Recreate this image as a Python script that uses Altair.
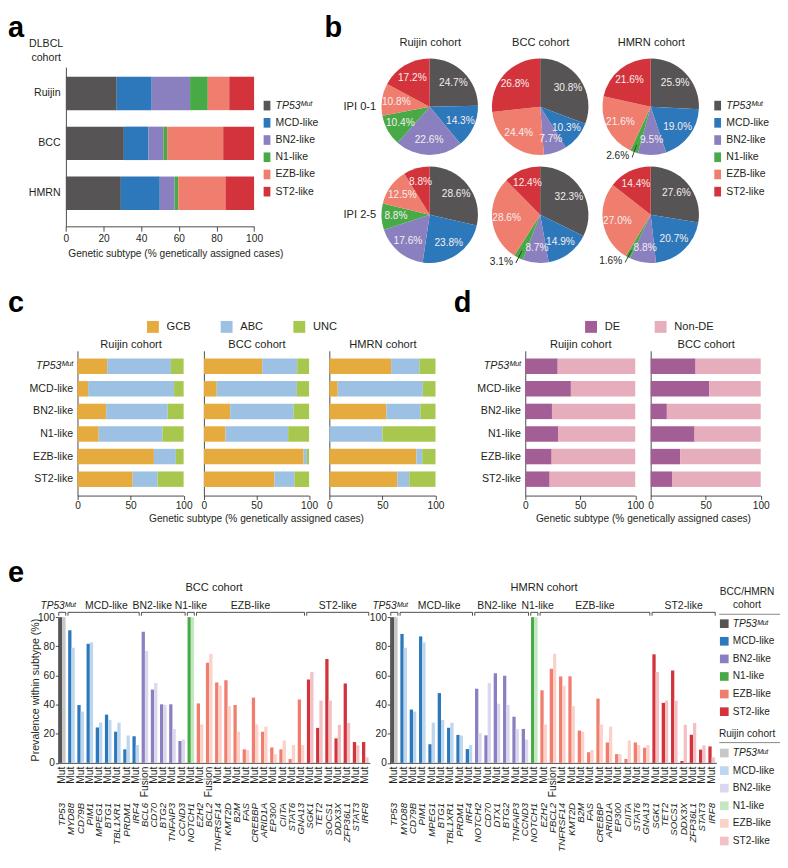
import altair as alt
import pandas as pd

K = 0.97


def P(v):
    return round(K * v, 2)


W = 776
H = 845
FONT = 'Liberation Sans'
TXT = '#231f20'

SUBTYPES = ['TP53Mut', 'MCD-like', 'BN2-like', 'N1-like', 'EZB-like', 'ST2-like']
DARK = ['#575455', '#2c78bb', '#8a80c0', '#48aa47', '#f07e6e', '#d3333a']
LIGHT = ['#c8c7c7', '#bdd7ee', '#dad7ee', '#c4e6c1', '#fbd1c9', '#f1c1c5']

# ---------------- panel a ----------------
A_COHORTS = ['Ruijin', 'BCC', 'HMRN']
A_RUIJIN = [27.0, 18.6, 20.4, 9.4, 11.4, 13.2]
A_BCC = [30.8, 13.1, 7.9, 2.0, 29.8, 16.4]
A_HMRN = [29.2, 20.7, 7.9, 1.9, 25.1, 15.2]

# ---------------- panel b ----------------
B_COHORTS = ['Ruijin cohort', 'BCC cohort', 'HMRN cohort']
B_IPI = ['IPI 0-1', 'IPI 2-5']
B_RUIJIN_IPI01 = [24.7, 14.3, 22.6, 10.4, 10.8, 17.2]
B_BCC_IPI01 = [30.8, 10.3, 7.7, 0.0, 24.4, 26.8]
B_HMRN_IPI01 = [25.9, 19.0, 9.5, 2.6, 21.6, 21.6]
B_RUIJIN_IPI25 = [28.6, 23.8, 17.6, 8.8, 12.5, 8.8]
B_BCC_IPI25 = [32.3, 14.9, 8.7, 3.1, 28.6, 12.4]
B_HMRN_IPI25 = [27.6, 20.7, 8.8, 1.6, 27.0, 14.4]

# ---------------- panel c ----------------
C_CLASSES = ['GCB', 'ABC', 'UNC']
C_COLORS = ['#e5ab3e', '#9dc1e3', '#a8c74f']
C_RUIJIN_GCB = [28.0, 10.0, 27.0, 20.0, 72.0, 52.0]
C_RUIJIN_ABC = [60.0, 81.0, 58.0, 60.0, 20.7, 23.5]
C_RUIJIN_UNC = [12.0, 9.0, 15.0, 20.0, 7.3, 24.5]
C_BCC_GCB = [55.4, 12.2, 25.0, 20.5, 94.8, 67.0]
C_BCC_ABC = [33.3, 76.2, 60.3, 59.6, 3.1, 19.0]
C_BCC_UNC = [11.3, 11.6, 14.7, 19.9, 2.1, 14.0]
C_HMRN_GCB = [58.2, 7.9, 53.7, 0.0, 82.0, 64.0]
C_HMRN_ABC = [26.6, 80.2, 32.0, 50.0, 5.5, 11.3]
C_HMRN_UNC = [15.2, 11.9, 14.3, 50.0, 12.5, 24.7]

# ---------------- panel d ----------------
D_CLASSES = ['DE', 'Non-DE']
D_COLORS = ['#a45e96', '#e6adbd']
D_RUIJIN_DE = [29.5, 41.5, 24.3, 29.8, 24.0, 22.2]
D_RUIJIN_NONDE = [70.5, 58.5, 75.7, 70.2, 76.0, 77.8]
D_BCC_DE = [40.8, 53.1, 14.7, 39.9, 26.7, 19.4]
D_BCC_NONDE = [59.2, 46.9, 85.3, 60.1, 73.3, 80.6]

# ---------------- panel e ----------------
E_BCC_GENES = ['TP53', 'MYD88', 'CD79B', 'PIM1', 'MPEG1', 'BTG1', 'TBL1XR1', 'PRDM1', 'IRF4',
               'BCL6', 'CD70', 'BTG2', 'TNFAIP3', 'CCND3', 'NOTCH1',
               'EZH2', 'BCL2', 'TNFRSF14', 'KMT2D', 'B2M', 'FAS', 'CREBBP', 'ARID1A', 'EP300',
               'CIITA', 'STAT6', 'GNA13', 'SGK1', 'TET2', 'SOCS1', 'DDX3X', 'ZFP36L1', 'STAT3', 'IRF8']
E_BCC_ALT = ['Mut'] * 9 + ['Fusion'] + ['Mut'] * 6 + ['Fusion'] + ['Mut'] * 17
E_BCC_SIZES = [1, 8, 5, 1, 12, 7]
E_BCC_VALUES = [100, 91.0, 39.7, 81.7, 24.3, 33.1, 21.4, 9.3, 18.3,
                90.0, 50.3, 40.2, 40.2, 15.0, 100,
                40.8, 68.7, 55.2, 56.7, 39.7, 9.3, 44.8, 21.4, 10.6, 9.3, 2.6, 43.5,
                57.2, 24.0, 71.3, 16.8, 54.5, 14.3, 14.3]
E_BCC_RUIJIN = [100, 79.0, 35.2, 82.7, 27.6, 29.4, 27.5, 18.8, 12.2,
                76.8, 54.8, 39.8, 23.2, 16.0, 100,
                26.4, 74.8, 53.0, 38.9, 21.4, 8.8, 26.4, 24.9, 6.0, 15.4, 12.3, 12.2,
                62.4, 42.8, 42.7, 26.1, 27.4, 12.0, 3.8]

E_HMRN_GENES = ['TP53', 'MYD88', 'CD79B', 'PIM1', 'MPEG1', 'BTG1', 'TBL1XR1', 'PRDM1', 'IRF4',
                'NOTCH2', 'CD70', 'DTX1', 'BTG2', 'TNFAIP3', 'CCND3', 'NOTCH1',
                'EZH2', 'FBCL2', 'TNFRSF14', 'KMT2D', 'B2M', 'FAS', 'CREBBP', 'ARID1A', 'EP300',
                'CIITA', 'STAT6', 'GNA13', 'SGK1', 'TET2', 'SOCS1', 'DDX3X', 'ZFP36L1', 'STAT3', 'IRF8']
E_HMRN_ALT = ['Mut'] * 17 + ['Fusion'] + ['Mut'] * 17
E_HMRN_SIZES = [1, 8, 6, 1, 12, 7]
E_HMRN_VALUES = [100, 88.5, 36.6, 86.8, 12.8, 47.9, 24.1, 19.2, 9.5,
                 50.9, 18.9, 61.5, 59.8, 31.7, 23.3, 100,
                 49.8, 64.6, 59.3, 59.4, 22.2, 7.3, 44.1, 14.0, 6.0, 2.7, 14.0, 10.4,
                 74.5, 41.2, 63.4, 1.3, 19.3, 9.1, 11.3]
E_HMRN_RUIJIN = [100, 79.0, 35.2, 82.7, 27.6, 29.4, 27.5, 18.8, 12.2,
                 20.4, 54.8, 40.6, 39.8, 23.2, 16.0, 100,
                 26.4, 74.8, 53.0, 38.9, 21.4, 8.8, 26.4, 24.9, 6.0, 15.4, 12.3, 12.2,
                 62.4, 42.8, 42.7, 26.1, 27.4, 12.0, 3.8]

TP53_LABEL = "datum.value == 'TP53Mut' ? 'TP53ᴹᵘᵗ' : datum.label"
AX_ITALIC = {"condition": {"test": "datum.value == 'TP53Mut'", "value": "italic"}, "value": "normal"}
LG_ITALIC = {"expr": "datum.value == 'TP53Mut' ? 'italic' : 'normal'"}
RECT = 'M-0.7,-1H0.7V1H-0.7Z'


def subtype_legend(x, y, pitch, sym, size, font, title=None, extra=None):
    kw = dict(orient='none', legendX=P(x), legendY=P(y), symbolType=sym,
              symbolSize=round(K * K * size, 1), symbolStrokeWidth=0, symbolOpacity=1,
              labelFontSize=P(font), labelColor=TXT, labelFont=FONT, labelOffset=P(3.5),
              rowPadding=round(P(pitch) - P(font), 2), padding=0, labelLimit=300,
              labelExpr=TP53_LABEL, labelFontStyle=LG_ITALIC, title=title)
    if extra:
        kw.update(extra)
    return alt.Legend(**kw)


# ================= panel a =================
rows = []
for cohort, vals in zip(A_COHORTS, [A_RUIJIN, A_BCC, A_HMRN]):
    for i, (s, v) in enumerate(zip(SUBTYPES, vals)):
        rows.append({'cohort': cohort, 'subtype': s, 'value': v, 'order': i})
df_a = pd.DataFrame(rows)

chart_a = alt.Chart(df_a).mark_bar().encode(
    x=alt.X('value:Q', stack='zero',
            scale=alt.Scale(domain=[0, 100], range=[P(60), P(255)], nice=False),
            axis=alt.Axis(orient='bottom', offset=P(224) - H, values=[0, 20, 40, 60, 80, 100],
                          tickSize=P(5), labelPadding=P(2), labelFlush=False, labelFontSize=P(10.5),
                          title='Genetic subtype (% genetically assigned cases)',
                          titleFontSize=P(10.5), titleFontWeight='normal', titleX=P(62), titleY=P(28),
                          titleAlign='left', titleBaseline='middle')),
    y=alt.Y('cohort:N',
            scale=alt.Scale(domain=A_COHORTS, range=[P(59), P(224)], paddingInner=0.33,
                            paddingOuter=0.26, align=0.37),
            axis=alt.Axis(orient='left', offset=-P(60), ticks=False, labelPadding=P(6),
                          labelFontSize=P(11), title=['DLBCL', 'cohort'], titleAngle=0,
                          titleAlign='center', titleBaseline='top', titleX=P(39) - P(60),
                          titleY=P(29), titleLineHeight=P(15), titleFontSize=P(11),
                          titleFontWeight='normal')),
    color=alt.Color('subtype:N', scale=alt.Scale(domain=SUBTYPES, range=DARK),
                    legend=subtype_legend(263, 93.5, 17.3, RECT, 100, 10.8)),
    order=alt.Order('order:Q'),
)

# ================= panel b =================
rows = []
for ipi, lists in zip(B_IPI, [[B_RUIJIN_IPI01, B_BCC_IPI01, B_HMRN_IPI01],
                              [B_RUIJIN_IPI25, B_BCC_IPI25, B_HMRN_IPI25]]):
    for cohort, vals in zip(B_COHORTS, lists):
        for i, (s, v) in enumerate(zip(SUBTYPES, vals)):
            rows.append({'cohort': cohort, 'ipi': ipi, 'subtype': s, 'value': v,
                         'order': i, 'label': f'{v:.1f}%'})
df_b = pd.DataFrame(rows)

b_x = alt.X('cohort:N',
            scale=alt.Scale(type='point', domain=B_COHORTS, range=[P(437), P(666)], padding=0),
            axis=alt.Axis(orient='top', offset=-P(41), domain=False, ticks=False, labelAngle=0,
                          labelPadding=P(2), labelFontSize=P(11.5), title=None))
b_y = alt.Y('ipi:N',
            scale=alt.Scale(type='point', domain=B_IPI, range=[P(100), P(212)], padding=0),
            axis=alt.Axis(orient='left', offset=-P(384), domain=False, ticks=False,
                          labelPadding=P(3), labelFontSize=P(11.5), title=None))
theta_scale = alt.Scale(domain=[0, 100], range=[0, 6.283185])

b_base = alt.Chart(df_b).transform_joinaggregate(
    total='sum(value)', groupby=['cohort', 'ipi']
).transform_window(
    cum='sum(value)', groupby=['cohort', 'ipi'], sort=[alt.SortField('order', order='ascending')],
    frame=[None, 0]
).transform_calculate(
    t0='100 * (datum.cum - datum.value) / datum.total',
    t1='100 * datum.cum / datum.total',
    tm='100 * (datum.cum - datum.value / 2) / datum.total',
    l0='100 * (datum.cum - datum.value / 2) / datum.total - 0.12',
    l1='100 * (datum.cum - datum.value / 2) / datum.total + 0.12'
)

b_arcs = b_base.mark_arc(outerRadius=P(50)).encode(
    x=b_x, y=b_y,
    theta=alt.Theta('t0:Q', scale=theta_scale, stack=False), theta2='t1:Q',
    color=alt.Color('subtype:N', scale=alt.Scale(domain=SUBTYPES, range=DARK),
                    legend=subtype_legend(730, 93.5, 17.3, RECT, 100, 10.8)),
)
b_in = b_base.transform_filter('datum.value >= 5').mark_text(
    radius=P(35), fontSize=P(10.5), color='#f6eeee'
).encode(x=b_x, y=b_y, theta=alt.Theta('tm:Q', scale=theta_scale, stack=False), text='label:N')
b_lead = b_base.transform_filter('datum.value > 0 && datum.value < 5').mark_arc(
    innerRadius=P(42), outerRadius=P(56), color=TXT
).encode(x=b_x, y=b_y, theta=alt.Theta('l0:Q', scale=theta_scale, stack=False), theta2='l1:Q')
b_out = b_base.transform_filter('datum.value > 0 && datum.value < 5').mark_text(
    radius=P(56), align='right', dx=-P(3), dy=-P(1), fontSize=P(10.5), color=TXT
).encode(x=b_x, y=b_y, theta=alt.Theta('tm:Q', scale=theta_scale, stack=False), text='label:N')
chart_b = alt.layer(b_arcs, b_in, b_lead, b_out)


# ================= panels c & d =================
def hbar_facet(vals_by_class, classes, colors, x0, x1, ytitle, show_labels, legend,
               xtitle=None, xtitle_x=None):
    rows = []
    for ci, (cls, vals) in enumerate(zip(classes, vals_by_class)):
        for s, v in zip(SUBTYPES, vals):
            rows.append({'subtype': s, 'cls': cls, 'value': v, 'order': ci})
    df = pd.DataFrame(rows)
    xkw = dict(orient='bottom', offset=P(503) - H, values=[0, 50, 100], tickSize=P(4),
               labelPadding=P(1), labelFlush=False, labelFontSize=P(10.5), title=xtitle)
    if xtitle:
        xkw.update(titleX=P(xtitle_x), titleY=P(24), titleAlign='center', titleBaseline='middle',
                   titleFontSize=P(10.5), titleFontWeight='normal')
    yaxis = alt.Axis(orient='left', offset=-P(x0), ticks=False, labels=show_labels,
                     labelPadding=P(5), labelFontSize=P(11), labelExpr=TP53_LABEL,
                     labelFontStyle=AX_ITALIC, title=ytitle, titleAngle=0, titleAlign='center',
                     titleBaseline='middle', titleX=P((x1 - x0) / 2), titleY=P(346),
                     titleFontSize=P(11.5), titleFontWeight='normal')
    return alt.Chart(df).mark_bar().encode(
        x=alt.X('value:Q', stack='zero',
                scale=alt.Scale(domain=[0, 100], range=[P(x0), P(x1)], nice=False),
                axis=alt.Axis(**xkw)),
        y=alt.Y('subtype:N',
                scale=alt.Scale(domain=SUBTYPES, range=[P(353), P(503)], paddingInner=0.316,
                                paddingOuter=0.363, align=0.47),
                axis=yaxis),
        color=alt.Color('cls:N', scale=alt.Scale(domain=classes, range=colors), legend=legend),
        order=alt.Order('order:Q'),
    )


def class_legend(x, colpad):
    return alt.Legend(orient='none', legendX=P(x), legendY=P(322), direction='horizontal',
                      symbolType='square', symbolSize=round(P(12.3) ** 2, 1), symbolStrokeWidth=0,
                      symbolOpacity=1, labelFontSize=P(11.5), labelOffset=P(8),
                      columnPadding=P(colpad), padding=0, title=None, labelColor=TXT)


GTITLE = 'Genetic subtype (% genetically assigned cases)'
c1 = hbar_facet([C_RUIJIN_GCB, C_RUIJIN_ABC, C_RUIJIN_UNC], C_CLASSES, C_COLORS, 72, 182,
                'Ruijin cohort', True, class_legend(144, 31))
c2 = hbar_facet([C_BCC_GCB, C_BCC_ABC, C_BCC_UNC], C_CLASSES, C_COLORS, 203, 312,
                'BCC cohort', False, None, GTITLE, 257)
c3 = hbar_facet([C_HMRN_GCB, C_HMRN_ABC, C_HMRN_UNC], C_CLASSES, C_COLORS, 333, 443,
                'HMRN cohort', False, None)
d1 = hbar_facet([D_RUIJIN_DE, D_RUIJIN_NONDE], D_CLASSES, D_COLORS, 536, 650,
                'Ruijin cohort', True, class_legend(598, 35), GTITLE, 658)
d2 = hbar_facet([D_BCC_DE, D_BCC_NONDE], D_CLASSES, D_COLORS, 666, 780,
                'BCC cohort', False, None)


# ================= panel e =================
def e_panel(genes, alts, sizes, dark, light, x0, x1, yaxis_x, cohort_title, cohort_x,
            ytitle, show_legend, nudges):
    subs = []
    for s, n in zip(SUBTYPES, sizes):
        subs += [s] * n
    df = pd.DataFrame({'gene': genes, 'alt': alts, 'subtype': subs, 'dark': dark, 'light': light})

    def xs():
        return alt.Scale(domain=genes, range=[P(x0), P(x1)], paddingInner=0.3, paddingOuter=0.15)

    def ys():
        return alt.Scale(domain=[0, 100], range=[P(780), P(629)], nice=False)

    ykw = dict(orient='left', offset=-P(yaxis_x), values=[0, 20, 40, 60, 80, 100], tickSize=P(3),
               labelPadding=P(1), labelFontSize=P(10.5), title=ytitle)
    if ytitle:
        ykw.update(titleX=P(29 - yaxis_x), titleY=P(704), titleAngle=270, titleAlign='center',
                   titleBaseline='middle', titleFontSize=P(11), titleFontWeight='normal')
    xaxis = alt.Axis(orient='bottom', offset=P(780) - H, ticks=False, tickSize=0, labelAngle=270,
                     labelPadding=P(41), labelFontSize=P(10), labelFontStyle='italic',
                     labelOverlap=False, title=None)
    if show_legend:
        dark_leg = subtype_legend(737, 598, 17.4, 'square', 81, 10.5, title=['BCC/HMRN', 'cohort'],
                                  extra=dict(titleFontSize=P(10.5), titleFontWeight='normal',
                                             titleAlign='center', titleAnchor='middle',
                                             titleLineHeight=P(13), titlePadding=P(9),
                                             titleColor=TXT, titleFont=FONT))
        light_leg = subtype_legend(737, 745, 17.4, 'square', 81, 10.5, title='Ruijin cohort',
                                   extra=dict(titleFontSize=P(10.5), titleFontWeight='normal',
                                              titleAlign='center', titleAnchor='middle',
                                              titlePadding=P(9), titleColor=TXT, titleFont=FONT))
    else:
        dark_leg = None
        light_leg = None
    bars_dark = alt.Chart(df).mark_bar(width=P(3.4), xOffset=-P(1.7)).encode(
        x=alt.X('gene:N', scale=xs(), axis=xaxis),
        y=alt.Y('dark:Q', scale=ys(), axis=alt.Axis(**ykw)),
        color=alt.Color('subtype:N', scale=alt.Scale(domain=SUBTYPES, range=DARK), legend=dark_leg),
    )
    bars_light = alt.Chart(df).mark_bar(width=P(3.4), xOffset=P(1.7)).encode(
        x=alt.X('gene:N', scale=xs(), axis=None),
        y=alt.Y('light:Q', scale=ys(), axis=None),
        color=alt.Color('subtype:N', scale=alt.Scale(domain=SUBTYPES, range=LIGHT), legend=light_leg),
    )
    mut_text = alt.Chart(df).mark_text(
        angle=270, align='right', baseline='middle', dx=-P(4), fontSize=P(10.5), color=TXT
    ).encode(
        x=alt.X('gene:N', scale=xs(), axis=None),
        y=alt.Y(datum=0, scale=ys(), axis=None),
        text='alt:N',
    )

    starts, ends, c = [], [], 0
    for n in sizes:
        starts.append(c)
        c += n
        ends.append(c)
    gdf = pd.DataFrame({'group': SUBTYPES, 'start': starts, 'end': ends})
    nudge_expr = '0'
    for g, v in nudges.items():
        nudge_expr = f"(datum.group == '{g}' ? {v} : {nudge_expr})"

    def bx():
        return alt.Scale(domain=[0, len(genes)], range=[P(x0), P(x1)], nice=False, zero=False)

    bx_axis = alt.Axis(orient='top', offset=0, labels=False, ticks=False, domain=False,
                       title=cohort_title, titleX=P(cohort_x), titleY=P(598), titleAlign='center',
                       titleBaseline='middle', titleAngle=0, titleFontSize=P(11.5),
                       titleFontWeight='normal')
    base = alt.Chart(gdf).transform_calculate(
        s='datum.start + 0.12', e='datum.end - 0.12',
        mid=f'(datum.start + datum.end) / 2 + {nudge_expr}')
    hline = base.mark_rule(color=TXT, strokeWidth=0.8).encode(
        x=alt.X('s:Q', scale=bx(), axis=bx_axis), x2='e:Q', y=alt.value(P(624)))
    endticks = base.transform_fold(['s', 'e'], as_=['k', 'pos']).mark_rule(
        color=TXT, strokeWidth=0.8).encode(
        x=alt.X('pos:Q', scale=bx(), axis=None), y=alt.value(P(624)), y2=alt.value(P(627.5)))
    lab = base.transform_filter("datum.group != 'TP53Mut'").mark_text(
        fontSize=P(10.8), baseline='alphabetic', color=TXT).encode(
        x=alt.X('mid:Q', scale=bx(), axis=None), y=alt.value(P(621)), text='group:N')
    lab_tp = base.transform_filter("datum.group == 'TP53Mut'").mark_text(
        fontSize=P(10.5), baseline='alphabetic', color=TXT, fontStyle='italic',
        text='TP53ᴹᵘᵗ').encode(x=alt.X('mid:Q', scale=bx(), axis=None), y=alt.value(P(621)))
    return [bars_dark, bars_light, mut_text, hline, endticks, lab, lab_tp]


e_bcc = e_panel(E_BCC_GENES, E_BCC_ALT, E_BCC_SIZES, E_BCC_VALUES, E_BCC_RUIJIN,
                51.5, 375, 52, 'BCC cohort', 213, 'Prevalence within subtype (%)', False,
                {'BN2-like': -1.2, 'TP53Mut': -0.45, 'MCD-like': 0.3})
e_hmrn = e_panel(E_HMRN_GENES, E_HMRN_ALT, E_HMRN_SIZES, E_HMRN_VALUES, E_HMRN_RUIJIN,
                 395.5, 734, 396, 'HMRN cohort', 555, None, True,
                 {'TP53Mut': -0.45, 'MCD-like': 0.3, 'BN2-like': -0.5, 'N1-like': 0.35})

# legend header underlines (panel e)
legend_lines = alt.Chart(pd.DataFrame({'k': ['BCC/HMRN cohort', 'Ruijin cohort']})).mark_rule(
    color='#6d6b6c', strokeWidth=0.8
).encode(
    x=alt.value(P(737)), x2=alt.value(W),
    y=alt.Y('k:N', scale=alt.Scale(type='point', domain=['BCC/HMRN cohort', 'Ruijin cohort'],
                                   range=[P(626), P(759)], padding=0), axis=None),
)


# ================= panel letters =================
def letter(ch, x, y):
    return alt.Chart(pd.DataFrame({'t': [ch]})).mark_text(
        align='left', baseline='alphabetic', fontSize=P(30), fontWeight='bold', color='#000'
    ).encode(x=alt.value(P(x)), y=alt.value(P(y)), text='t:N')


letters = [letter('a', 0, 28), letter('b', 328, 28), letter('c', 0, 313),
           letter('d', 462, 313), letter('e', 0, 593)]

chart = alt.layer(
    chart_a, chart_b, c1, c2, c3, d1, d2, *e_bcc, *e_hmrn, legend_lines, *letters
).resolve_scale(
    x='independent', y='independent', color='independent', theta='independent'
).properties(
    width=W, height=H, autosize=alt.AutoSizeParams(type='none'), padding=0
).configure(
    font=FONT
).configure_view(
    stroke=None
).configure_axis(
    grid=False, domainColor=TXT, domainWidth=0.8, tickColor=TXT, tickWidth=0.8,
    labelColor=TXT, titleColor=TXT, labelFont=FONT, titleFont=FONT
).configure_legend(
    labelFont=FONT, titleFont=FONT, labelColor=TXT, titleColor=TXT
).configure_text(font=FONT)

chart.save('out.html', embed_options={'renderer': 'svg', 'actions': False})
